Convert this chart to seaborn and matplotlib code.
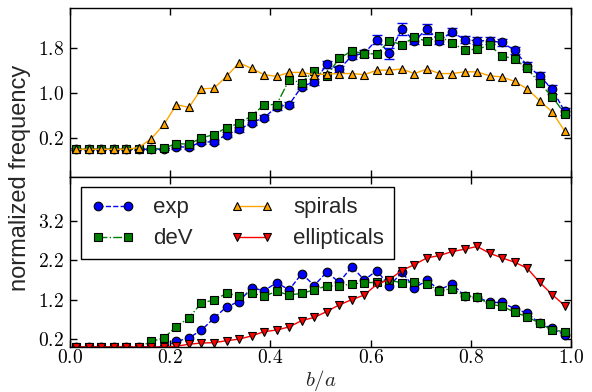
import numpy as np
import pandas as pd
import matplotlib
matplotlib.use("Agg")
import matplotlib.pyplot as plt
import seaborn as sns

# axis-ratio bin centres
b_a = [0.0125, 0.0375, 0.0625, 0.0875, 0.1125, 0.1375, 0.1625, 0.1875,
       0.2125, 0.2375, 0.2625, 0.2875, 0.3125, 0.3375, 0.3625, 0.3875,
       0.4125, 0.4375, 0.4625, 0.4875, 0.5125, 0.5375, 0.5625, 0.5875,
       0.6125, 0.6375, 0.6625, 0.6875, 0.7125, 0.7375, 0.7625, 0.7875,
       0.8125, 0.8375, 0.8625, 0.8875, 0.9125, 0.9375, 0.9625, 0.9875]

# upper panel: profile fits vs. spiral sample
exp_top = [0.0, 0.0, 0.0, 0.0, 0.0, 0.0, 0.0, 0.0, 0.04, 0.04,
           0.13, 0.13, 0.26, 0.35, 0.47, 0.56, 0.75, 0.79, 1.11, 1.19,
           1.50, 1.42, 1.65, 1.70, 1.94, 1.70, 2.13, 1.92, 2.13, 1.92,
           2.08, 1.94, 1.92, 1.92, 1.89, 1.75, 1.48, 1.30, 1.06, 0.67]
exp_top_err = [0.02, 0.02, 0.02, 0.02, 0.02, 0.02, 0.02, 0.02, 0.03, 0.03,
               0.03, 0.03, 0.04, 0.04, 0.04, 0.04, 0.05, 0.05, 0.05, 0.05,
               0.06, 0.06, 0.06, 0.06, 0.08, 0.10, 0.10, 0.06, 0.09, 0.06,
               0.06, 0.06, 0.06, 0.06, 0.06, 0.06, 0.06, 0.06, 0.08, 0.06]
dev_top = [0.0, 0.0, 0.0, 0.0, 0.0, 0.0, 0.0, 0.02, 0.10, 0.09,
           0.20, 0.26, 0.38, 0.46, 0.59, 0.79, 0.79, 1.23, 1.18, 1.39,
           1.30, 1.61, 1.74, 1.69, 1.69, 1.92, 1.85, 1.98, 1.91, 2.00,
           1.88, 1.76, 1.77, 1.84, 1.65, 1.60, 1.43, 1.17, 0.93, 0.63]
spirals = [0.0, 0.0, 0.0, 0.0, 0.0, 0.03, 0.19, 0.44, 0.79, 0.74,
           1.07, 1.08, 1.29, 1.53, 1.43, 1.32, 1.29, 1.36, 1.36, 1.32,
           1.33, 1.34, 1.34, 1.32, 1.40, 1.40, 1.42, 1.34, 1.42, 1.34,
           1.34, 1.37, 1.37, 1.30, 1.28, 1.20, 1.07, 0.86, 0.66, 0.32]

# lower panel: profile fits vs. elliptical sample
exp_bot = [0.0, 0.0, 0.0, 0.0, 0.0, 0.0, 0.0, 0.0, 0.14, 0.23,
           0.43, 0.73, 1.02, 1.15, 1.50, 1.43, 1.63, 1.45, 1.86, 1.56,
           1.90, 1.64, 2.04, 1.70, 1.94, 1.54, 1.90, 1.50, 1.69, 1.45,
           1.60, 1.30, 1.27, 1.13, 1.13, 0.97, 0.86, 0.60, 0.47, 0.30]
dev_bot = [0.0, 0.0, 0.0, 0.0, 0.0, 0.0, 0.14, 0.23, 0.52, 0.74,
           1.12, 1.19, 1.36, 1.30, 1.37, 1.29, 1.41, 1.32, 1.36, 1.45,
           1.55, 1.55, 1.60, 1.63, 1.64, 1.69, 1.63, 1.66, 1.59, 1.43,
           1.48, 1.29, 1.27, 1.08, 1.04, 0.88, 0.77, 0.60, 0.43, 0.39]
ellipticals = [0.0, 0.0, 0.0, 0.0, 0.0, 0.0, 0.0, 0.0, 0.02, 0.07,
               0.10, 0.11, 0.16, 0.20, 0.28, 0.39, 0.43, 0.51, 0.67, 0.75,
               0.90, 1.07, 1.20, 1.32, 1.59, 1.71, 1.94, 2.09, 2.26, 2.32,
               2.42, 2.48, 2.55, 2.38, 2.26, 2.15, 2.00, 1.64, 1.33, 1.05]

x_ticks = [0.0, 0.2, 0.4, 0.6, 0.8, 1.0]
x_ticklabels = ["$0.0$", "$0.2$", "$0.4$", "$0.6$", "$0.8$", "$1.0$"]
top_yticks = [0.2, 1.0, 1.8]
top_yticklabels = ["$0.2$", "$1.0$", "$1.8$"]
bot_yticks = [0.2, 1.2, 2.2, 3.2]
bot_yticklabels = ["$0.2$", "$1.2$", "$2.2$", "$3.2$"]

sns.set_theme(style="ticks")
plt.rcParams.update({
    "font.family": ["Liberation Sans", "DejaVu Sans"],
    "mathtext.fontset": "cm",
    "axes.edgecolor": "black",
    "axes.linewidth": 1.0,
    "xtick.direction": "in",
    "ytick.direction": "in",
    "xtick.top": True,
    "ytick.right": True,
    "xtick.major.size": 4.8,
    "ytick.major.size": 4.8,
    "xtick.major.width": 1.0,
    "ytick.major.width": 1.0,
    "xtick.color": "black",
    "ytick.color": "black",
    "xtick.labelsize": 14,
    "ytick.labelsize": 14,
    "xtick.major.pad": 1.5,
    "ytick.major.pad": 4.5,
})

fig, (ax1, ax2) = plt.subplots(2, 1, figsize=(5.92, 3.92), dpi=100, sharex=True)
fig.subplots_adjust(left=0.1182, right=0.9645, top=0.9796, bottom=0.1148, hspace=0)

STYLE = dict(linewidth=1.0, markersize=6.2, markeredgecolor="black",
             markeredgewidth=0.8)


def draw(ax, y, color, marker, ls, label):
    sns.lineplot(x=b_a, y=y, ax=ax, color=color, marker=marker, linestyle=ls,
                 label=label, legend=False, sort=False, estimator=None, **STYLE)
    return ax.lines[-1]


ax1.errorbar(b_a, exp_top, yerr=exp_top_err, fmt="none", ecolor="blue",
             elinewidth=1.0, capsize=3.5, capthick=1.0, zorder=1.5)
h_exp = draw(ax1, exp_top, "blue", "o", "--", "exp")
h_dev = draw(ax1, dev_top, "green", "s", "-.", "deV")
h_spi = draw(ax1, spirals, "orange", "^", "-", "spirals")

draw(ax2, exp_bot, "blue", "o", "--", "exp")
draw(ax2, dev_bot, "green", "s", "-.", "deV")
h_ell = draw(ax2, ellipticals, "red", "v", "-", "ellipticals")

ax1.set_ylim(-0.5, 2.5)
ax2.set_ylim(0.0, 4.3)
ax2.set_xlim(0.0, 1.0)
ax1.set_yticks(top_yticks, top_yticklabels)
ax2.set_yticks(bot_yticks, bot_yticklabels)
ax2.set_xticks(x_ticks, x_ticklabels)
ax1.tick_params(labelbottom=False)
for ax in (ax1, ax2):
    ax.set_ylabel("")
    for s in ax.spines.values():
        s.set_visible(True)
        s.set_color("black")

ax2.set_xlabel("$b/a$", fontsize=15, labelpad=1)
fig.text(0.034, 0.547, "normalized frequency", rotation=90, ha="center",
         va="center", fontsize=17)

leg = ax2.legend([h_exp, h_dev, h_spi, h_ell],
                 ["exp", "deV", "spirals", "ellipticals"],
                 loc="upper left", bbox_to_anchor=(0.022, 0.941),
                 borderaxespad=0, ncol=2, numpoints=2, fontsize=16,
                 handlelength=1.95, handletextpad=0.85, columnspacing=1.7,
                 labelspacing=0.45, borderpad=0.45, frameon=True,
                 fancybox=False, framealpha=1, edgecolor="black")
leg.get_frame().set_linewidth(1.0)

fig.savefig("out.png", dpi=100)
